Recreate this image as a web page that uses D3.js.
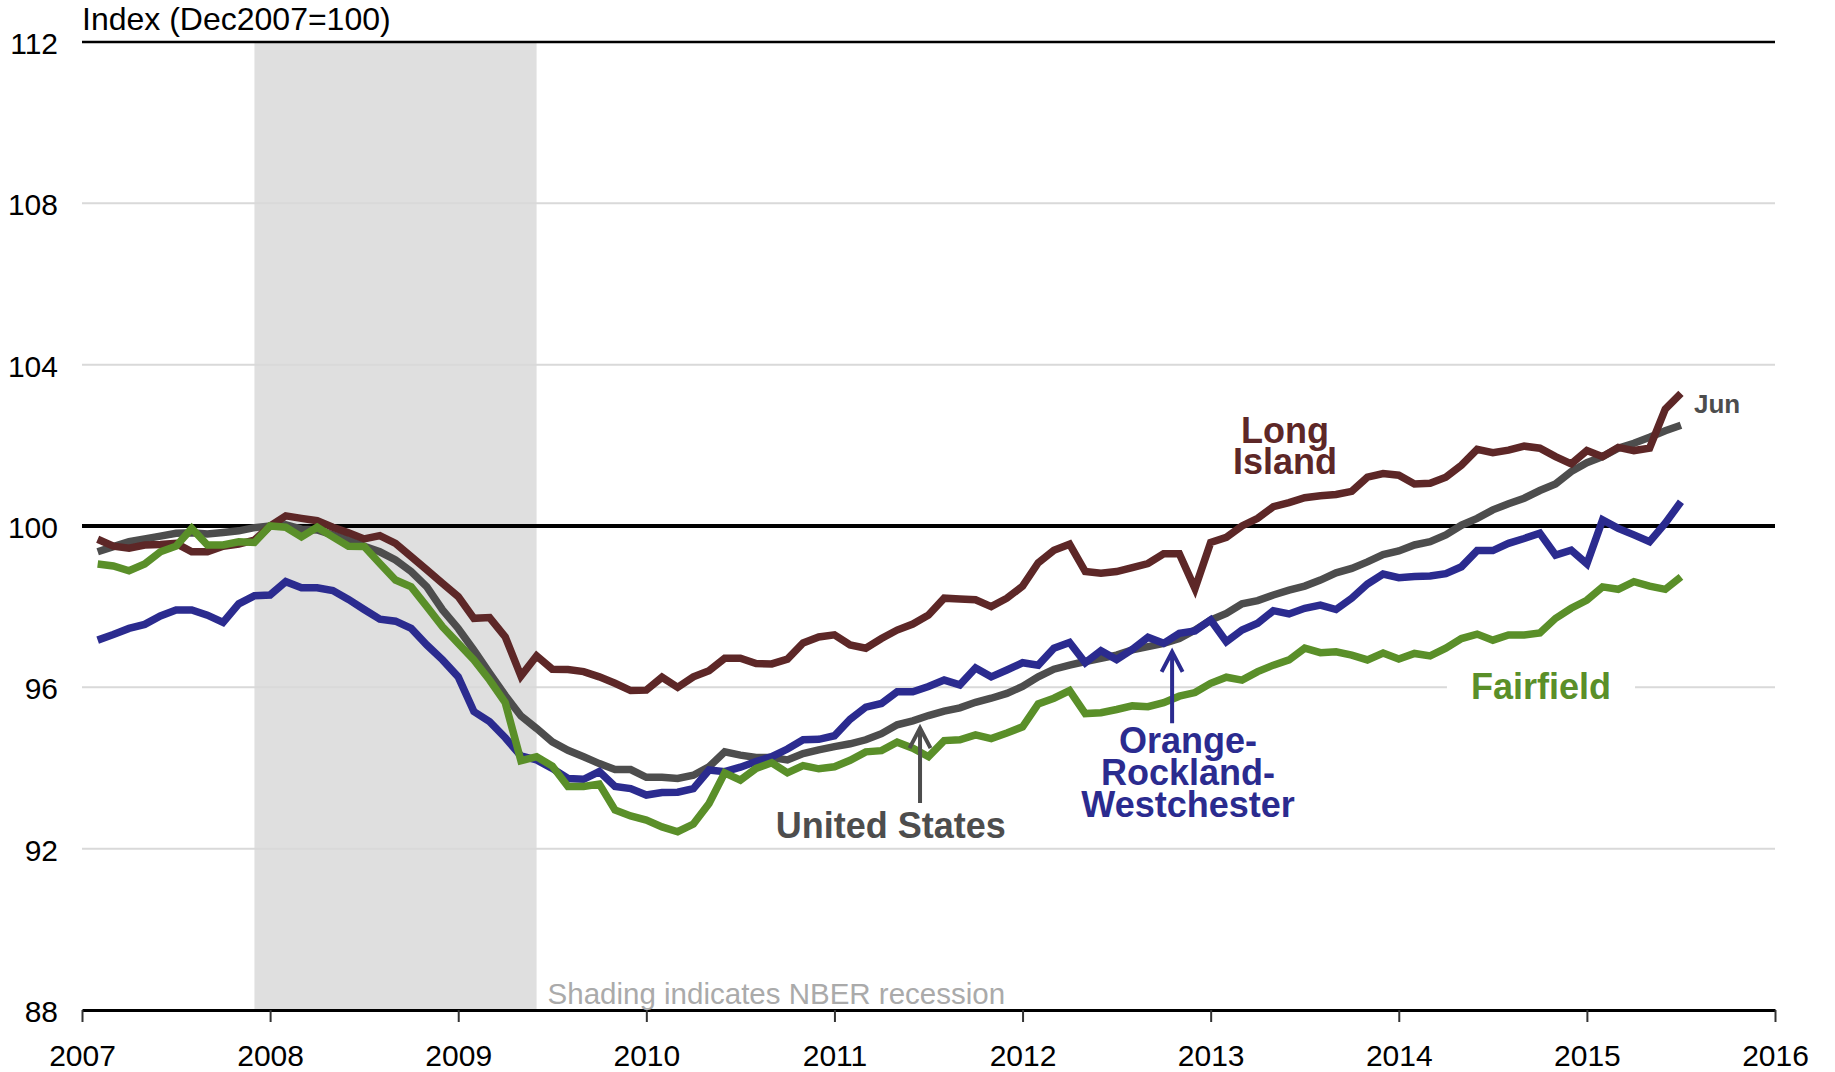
<!DOCTYPE html>
<html><head><meta charset="utf-8">
<script src="https://cdn.jsdelivr.net/npm/d3@7"></script>
<style>
body{margin:0;background:#fff}
svg{display:block;font-family:"Liberation Sans",Arial,Helvetica,sans-serif}
</style>
</head><body>
<svg id="chart" width="1835" height="1072"></svg>
<script>
// ---- data (monthly, Jan 2007 .. Jun 2015) ----
const startYear = 2007;
const yearTicks = [2007, 2008, 2009, 2010, 2011, 2012, 2013, 2014, 2015, 2016];
const yTicks = [88, 92, 96, 100, 104, 108, 112];
const recessionStart = 2007 + 11 / 12;   // Dec 2007
const recessionEnd = 2009 + 5 / 12;      // Jun 2009

const longIsland = [
 99.67,99.50,99.45,99.53,99.54,99.57,99.36,99.36,99.50,99.55,99.65,100.00,
 100.25,100.19,100.13,99.97,99.83,99.68,99.76,99.57,99.24,98.91,98.58,98.25,
 97.71,97.73,97.25,96.28,96.78,96.45,96.44,96.39,96.26,96.10,95.92,95.93,
 96.25,96.00,96.26,96.41,96.72,96.72,96.59,96.58,96.70,97.10,97.25,97.30,
 97.05,96.97,97.21,97.42,97.57,97.79,98.21,98.19,98.17,98.00,98.21,98.51,
 99.09,99.40,99.55,98.87,98.83,98.87,98.97,99.07,99.31,99.31,98.45,99.59,
 99.72,100.00,100.19,100.48,100.58,100.70,100.75,100.78,100.86,101.21,101.30,101.26,
 101.04,101.06,101.21,101.51,101.90,101.82,101.88,101.98,101.93,101.72,101.54,101.87,
 101.72,101.95,101.87,101.93,102.90,103.29
];
const unitedStates = [
 99.36,99.49,99.61,99.68,99.75,99.82,99.83,99.80,99.84,99.88,99.96,100.00,
 100.03,99.92,99.90,99.78,99.65,99.50,99.36,99.16,98.87,98.49,97.92,97.46,
 96.92,96.35,95.80,95.29,94.98,94.65,94.44,94.28,94.11,93.96,93.96,93.77,
 93.77,93.74,93.82,94.03,94.40,94.32,94.26,94.26,94.20,94.36,94.45,94.53,
 94.60,94.70,94.85,95.07,95.17,95.30,95.41,95.49,95.63,95.73,95.85,96.02,
 96.26,96.45,96.55,96.64,96.72,96.80,96.93,97.01,97.09,97.21,97.42,97.67,
 97.83,98.07,98.15,98.29,98.41,98.51,98.66,98.84,98.95,99.11,99.29,99.38,
 99.53,99.61,99.78,100.02,100.19,100.40,100.55,100.69,100.88,101.04,101.35,101.57,
 101.72,101.93,102.05,102.20,102.36,102.50
];
const orangeRocklandWestchester = [
 97.17,97.31,97.46,97.56,97.77,97.92,97.92,97.79,97.61,98.07,98.27,98.29,
 98.62,98.47,98.47,98.40,98.18,97.93,97.69,97.64,97.46,97.05,96.68,96.26,
 95.40,95.15,94.75,94.30,94.20,93.99,93.74,93.72,93.91,93.54,93.49,93.33,
 93.39,93.40,93.49,93.95,93.91,94.02,94.16,94.28,94.47,94.70,94.71,94.80,
 95.21,95.51,95.60,95.89,95.89,96.02,96.18,96.06,96.48,96.26,96.43,96.61,
 96.55,96.97,97.11,96.61,96.91,96.69,96.94,97.24,97.09,97.34,97.40,97.67,
 97.13,97.42,97.59,97.90,97.82,97.96,98.04,97.93,98.21,98.56,98.81,98.72,
 98.75,98.76,98.82,98.99,99.39,99.39,99.57,99.69,99.82,99.28,99.40,99.06,
 100.15,99.94,99.78,99.61,100.07,100.60
];
const fairfield = [
 99.06,99.01,98.89,99.06,99.36,99.50,99.94,99.53,99.53,99.61,99.59,100.00,
 99.97,99.73,99.97,99.73,99.50,99.49,99.07,98.66,98.49,98.00,97.50,97.09,
 96.68,96.18,95.62,94.18,94.28,94.05,93.54,93.54,93.60,92.96,92.81,92.71,
 92.54,92.42,92.61,93.12,93.88,93.70,93.99,94.13,93.88,94.06,93.98,94.03,
 94.19,94.40,94.43,94.64,94.49,94.28,94.68,94.70,94.82,94.73,94.87,95.02,
 95.59,95.73,95.92,95.35,95.37,95.45,95.54,95.52,95.62,95.78,95.87,96.10,
 96.25,96.18,96.39,96.55,96.68,96.97,96.86,96.88,96.80,96.68,96.85,96.70,
 96.84,96.78,96.97,97.21,97.32,97.17,97.30,97.30,97.35,97.71,97.96,98.16,
 98.49,98.43,98.62,98.51,98.43,98.74
];

const seriesNames = ["United States", "Orange-Rockland-Westchester", "Long Island", "Fairfield"];
const seriesColors = ["#4d4d4d", "#2b2b8f", "#5d2727", "#5a8f29"];
const seriesValues = [unitedStates, orangeRocklandWestchester, longIsland, fairfield];

// ---- layout ----
const svg = d3.select("#chart");
const x = d3.scaleLinear().domain([2007, 2016]).range([82, 1775]);
const y = d3.scaleLinear().domain([88, 112]).range([1010, 42]);
const t = i => startYear + (i + 1) / 12;   // month plotted at end of month

// recession shading
svg.append("rect")
  .attr("x", x(recessionStart)).attr("y", y(112))
  .attr("width", x(recessionEnd) - x(recessionStart))
  .attr("height", y(88) - y(112))
  .attr("fill", "#dfdfdf");

// gridlines
svg.append("g").selectAll("line")
  .data(yTicks.filter(v => v !== 88 && v !== 100 && v !== 112))
  .join("line")
  .attr("x1", x(2007)).attr("x2", x(2016))
  .attr("y1", d => y(d)).attr("y2", d => y(d))
  .attr("stroke", "#d9d9d9").attr("stroke-width", 2);

// white gap behind Fairfield label
svg.append("rect")
  .attr("x", x(2014.256)).attr("width", x(2015.256) - x(2014.256))
  .attr("y", y(96) - 6).attr("height", 12)
  .attr("fill", "#fff");

// top line and reference line at 100
svg.append("line")
  .attr("x1", x(2007)).attr("x2", x(2016))
  .attr("y1", y(112)).attr("y2", y(112))
  .attr("stroke", "#000").attr("stroke-width", 2.5);
svg.append("line")
  .attr("x1", x(2007)).attr("x2", x(2016))
  .attr("y1", y(100)).attr("y2", y(100))
  .attr("stroke", "#000").attr("stroke-width", 4);

// series lines
const line = d3.line().x((d, i) => x(t(i))).y(d => y(d));
svg.append("g").selectAll("path")
  .data(seriesValues)
  .join("path")
  .attr("d", d => line(d))
  .attr("fill", "none")
  .attr("stroke", (d, i) => seriesColors[i])
  .attr("stroke-width", 7.5)
  .attr("stroke-linejoin", "miter");

// x axis
const xAxis = d3.axisBottom(x)
  .tickValues(yearTicks)
  .tickFormat(d3.format("d"))
  .tickSizeInner(12).tickSizeOuter(0).tickPadding(23);
const gx = svg.append("g").attr("transform", `translate(0,${y(88)})`).call(xAxis);
gx.select(".domain").attr("stroke", "#000").attr("stroke-width", 3);
gx.selectAll(".tick line").attr("stroke", "#333").attr("stroke-width", 2);
gx.selectAll(".tick text").attr("font-size", 30).attr("fill", "#000")
  .attr("font-family", "Liberation Sans, Arial, sans-serif");

// y axis labels
const yAxis = d3.axisLeft(y).tickValues(yTicks).tickSize(0).tickPadding(24);
const gy = svg.append("g").attr("transform", `translate(${x(2007)},0)`).call(yAxis);
gy.select(".domain").remove();
gy.selectAll(".tick text").attr("font-size", 30).attr("fill", "#000")
  .attr("dy", "0.38em")
  .attr("font-family", "Liberation Sans, Arial, sans-serif");

// axis title
svg.append("text").attr("x", x(2007)).attr("y", 30)
  .attr("font-size", 32).attr("fill", "#000")
  .text("Index (Dec2007=100)");

// recession note
svg.append("text").attr("x", x(recessionEnd) + 11).attr("y", 1004)
  .attr("font-size", 29.5).attr("fill", "#aaaaaa")
  .text("Shading indicates NBER recession");

// series labels
function label(lines, xc, baselines, color, size, anchor) {
  const g = svg.append("text")
    .attr("font-size", size).attr("font-weight", "bold")
    .attr("fill", color).attr("text-anchor", anchor || "middle");
  lines.forEach((s, k) => {
    g.append("tspan").attr("x", x(xc)).attr("y", y(baselines[k])).text(s);
  });
}
label(["Long", "Island"], 2013.395, [102.06, 101.29], seriesColors[2], 36);
label(["Jun"], 2015.569, [102.80], "#4d4d4d", 26, "start");
label(["United States"], 2011.30, [92.26], seriesColors[0], 36);
label(["Orange-", "Rockland-", "Westchester"], 2012.88, [94.38, 93.58, 92.79], seriesColors[1], 36);
label(["Fairfield"], 2014.756, [95.71], seriesColors[3], 36);

// arrows
function arrow(xv, yTip, yBase, color) {
  const px = x(xv), pt = y(yTip), pb = y(yBase);
  svg.append("path")
    .attr("d", `M${px},${pb}V${pt}M${px - 10.5},${pt + 20}L${px},${pt}L${px + 10.5},${pt + 20}`)
    .attr("fill", "none").attr("stroke", color).attr("stroke-width", 4);
}
arrow(2011.455, 94.99, 93.13, seriesColors[0]);
arrow(2012.795, 96.88, 95.11, seriesColors[1]);
</script>
</body></html>
